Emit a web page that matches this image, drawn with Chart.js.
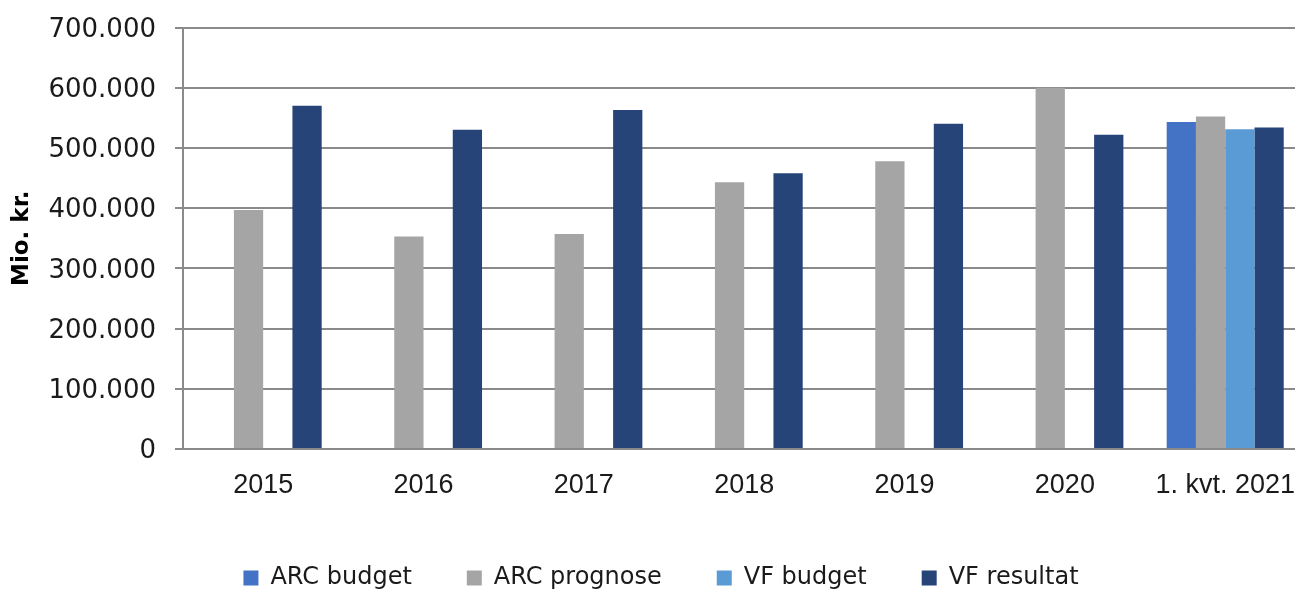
<!DOCTYPE html>
<html><head><meta charset="utf-8">
<script src="https://cdn.jsdelivr.net/npm/chart.js@4"></script>
<style>html,body{margin:0;padding:0;overflow:hidden;background:#fff}#wrap{width:1315px;height:600px;position:relative}</style>
</head><body><div id="wrap"><canvas id="c" width="1315" height="600"></canvas></div>
<script>
const categories = ['2015', '2016', '2017', '2018', '2019', '2020', '1. kvt. 2021'];
const arcBudget = [null, null, null, null, null, null, 543000];
const arcPrognose = [397000, 353000, 357000, 443000, 478000, 600000, 552000];
const vfBudget = [null, null, null, null, null, null, 531000];
const vfResultat = [570000, 530000, 563000, 458000, 540000, 522000, 534000];
const seriesNames = ['ARC budget', 'ARC prognose', 'VF budget', 'VF resultat'];
const seriesColors = ['#4472C4', '#A5A5A5', '#5B9BD5', '#264478'];
const yAxisTitle = 'Mio. kr.';
const yMin = 0, yMax = 700000, yStep = 100000;

function fmt(v) { return String(v).replace(/\B(?=(\d{3})+(?!\d))/g, '.'); }

const gridColor = '#8a8a8a';
const seriesData = [arcBudget, arcPrognose, vfBudget, vfResultat];

new Chart(document.getElementById('c'), {
  type: 'bar',
  data: {
    labels: categories,
    datasets: seriesNames.map((n, i) => ({
      label: n,
      data: seriesData[i],
      backgroundColor: seriesColors[i],
      borderWidth: 0,
      categoryPercentage: 0.73,
      barPercentage: 1.0
    }))
  },
  options: {
    responsive: false,
    devicePixelRatio: 1,
    animation: false,
    layout: { padding: { left: 7, top: 27.5, right: 0, bottom: 0 } },
    plugins: {
      tooltip: { enabled: false },
      legend: {
        position: 'bottom',
        labels: {
          font: { family: 'DejaVu Sans', size: 24 },
          color: '#1a1a1a',
          boxWidth: 15,
          boxHeight: 15,
          padding: 55
        }
      }
    },
    scales: {
      x: {
        grid: { display: false, drawTicks: false, tickLength: 0 },
        border: { display: false },
        ticks: { font: { family: 'Liberation Sans', size: 27 }, color: '#1a1a1a', padding: 20, maxRotation: 0, autoSkip: false },
        afterFit: s => { s.height = 62; }
      },
      y: {
        min: yMin, max: yMax,
        ticks: { stepSize: yStep, font: { family: 'DejaVu Sans', size: 26, lineHeight: 0.3 }, color: '#1a1a1a', padding: 19, labelOffset: 2.5, callback: v => fmt(v) },
        grid: { color: gridColor, lineWidth: 2, drawTicks: true, tickLength: 8, tickColor: gridColor },
        border: { display: true, color: gridColor, width: 2 },
        title: { display: true, text: yAxisTitle, font: { family: 'DejaVu Sans', size: 23, weight: 'bold' }, color: '#000', padding: { top: 1.5, bottom: 0 } },
        afterFit: s => { s.width = 176; }
      }
    }
  }
});
</script></body></html>
